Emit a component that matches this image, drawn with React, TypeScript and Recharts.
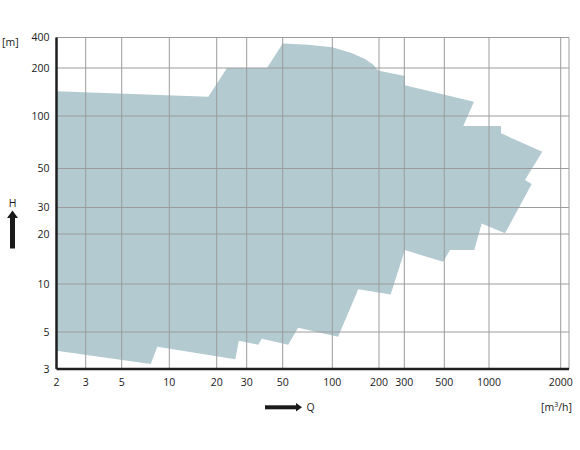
import React from 'react';
import { ComposedChart, Area, XAxis, YAxis, CartesianGrid } from 'recharts';

// axis ticks (the reference axes are hand drawn, so each tick has its own spot)
const qTicks = [2, 3, 5, 10, 20, 30, 50, 100, 200, 300, 500, 1000, 2000];
const qTickPos = [0, 29.2, 65.2, 112.8, 160.2, 190.2, 226.2, 275.8, 322.5, 347.8, 387.8, 432.5, 504.2];
const qEnd = 512.5;
const hTicks = [3, 5, 10, 20, 30, 50, 100, 200, 400];
const hTickPos = [0, 37, 85, 135, 161.5, 200.5, 253, 301, 331.5];

// outline of the pump range, clockwise from top left
const outlineQ = [
  2, 17.7, 23, 40, 50, 71.5, 100, 133, 162.5, 183.8, 196, 200, 302, 302, 792, 671, 1123, 1123,
  1674, 1416, 1511, 1167, 893, 796, 546, 493, 302, 241, 147, 109, 62, 54, 37.1, 35.4, 27, 25.7,
  8.4, 7.63, 2, 2,
];
const outlineH = [
  143, 132, 200, 200, 350, 340, 320, 281, 245, 215, 194, 192, 178, 156, 123, 87.6, 87.6, 79.6,
  62.4, 43, 40.8, 20.2, 23.5, 16, 16, 13.6, 16, 8.6, 9.27, 4.68, 5.32, 4.2, 4.55, 4.2, 4.43, 3.43,
  4.08, 3.21, 3.86, 143,
];

const warp = (v: number, vals: number[], pos: number[]) => {
  let i = 0;
  while (i < vals.length - 2 && v > vals[i + 1]) i++;
  const a = Math.log(vals[i]);
  const b = Math.log(vals[i + 1]);
  return pos[i] + ((pos[i + 1] - pos[i]) * (Math.log(v) - a)) / (b - a);
};

const data = outlineQ.map((q, i) => ({
  u: warp(q, qTicks, qTickPos),
  v: warp(outlineH[i], hTicks, hTickPos),
}));

const xTickUnits = [...qTickPos, qEnd];
const labelFor = (u: number, vals: number[], pos: number[]) => {
  const i = pos.findIndex(p => Math.abs(p - u) < 0.01);
  return i < 0 ? '' : String(vals[i]);
};

const font = '"Open Sans", "Noto Sans", sans-serif';
const tickStyle = { fontSize: 10.5, fill: '#1a1a1a', fontFamily: font };

export default function App() {
  return (
    <div style={{ position: 'absolute', left: 0, top: 0, width: 580, height: 450, background: '#fff' }}>
      <ComposedChart
        width={580}
        height={450}
        data={data}
        margin={{ top: 37.5, right: 11, left: 0, bottom: 41 }}
      >
        <XAxis
          type="number"
          dataKey="u"
          domain={[0, qEnd]}
          ticks={xTickUnits}
          interval={0}
          tickFormatter={(u: number) => labelFor(u, qTicks, qTickPos)}
          tick={tickStyle}
          tickLine={false}
          tickSize={0}
          tickMargin={10}
          height={40}
          axisLine={{ stroke: '#1f1f1f', strokeWidth: 2.5 }}
          allowDataOverflow
        />
        <YAxis
          type="number"
          domain={[0, hTickPos[hTickPos.length - 1]]}
          ticks={hTickPos}
          interval={0}
          tickFormatter={(v: number) => labelFor(v, hTicks, hTickPos)}
          tick={tickStyle}
          tickLine={false}
          tickSize={0}
          tickMargin={7}
          width={56.5}
          axisLine={{ stroke: '#1f1f1f', strokeWidth: 2.5 }}
          allowDataOverflow
        />
        <Area
          type="linear"
          dataKey="v"
          stroke="none"
          fill="#b3cad1"
          fillOpacity={1}
          baseValue={0}
          isAnimationActive={false}
          dot={false}
          activeDot={false}
        />
        {/* grid sits over the filled range in the reference */}
        <CartesianGrid stroke="#9c9c9c" strokeWidth={1} zIndex={150} />
      </ComposedChart>
      <svg
        width={580}
        height={450}
        style={{ position: 'absolute', left: 0, top: 0, pointerEvents: 'none' }}
      >
        <text x={2} y={46} fontSize={10.5} fontFamily={font} fill="#1a1a1a">[m]</text>
        <text x={12.7} y={207} fontSize={10.5} fontFamily={font} fill="#1a1a1a" textAnchor="middle">H</text>
        <rect x={10} y={215} width={5} height={33.5} fill="#1a1a1a" />
        <polygon points="7,218 12.5,210.5 18,218" fill="#1a1a1a" />
        <rect x={265} y={405.3} width={32} height={4} fill="#1a1a1a" />
        <polygon points="296,403 302,407.3 296,411.6" fill="#1a1a1a" />
        <text x={306.5} y={411} fontSize={10.5} fontFamily={font} fill="#1a1a1a">Q</text>
        <text x={572} y={411} fontSize={10.5} fontFamily={font} fill="#1a1a1a" textAnchor="end">
          [m<tspan fontSize={7} dy={-4}>3</tspan><tspan dy={4}>/h]</tspan>
        </text>
      </svg>
    </div>
  );
}
